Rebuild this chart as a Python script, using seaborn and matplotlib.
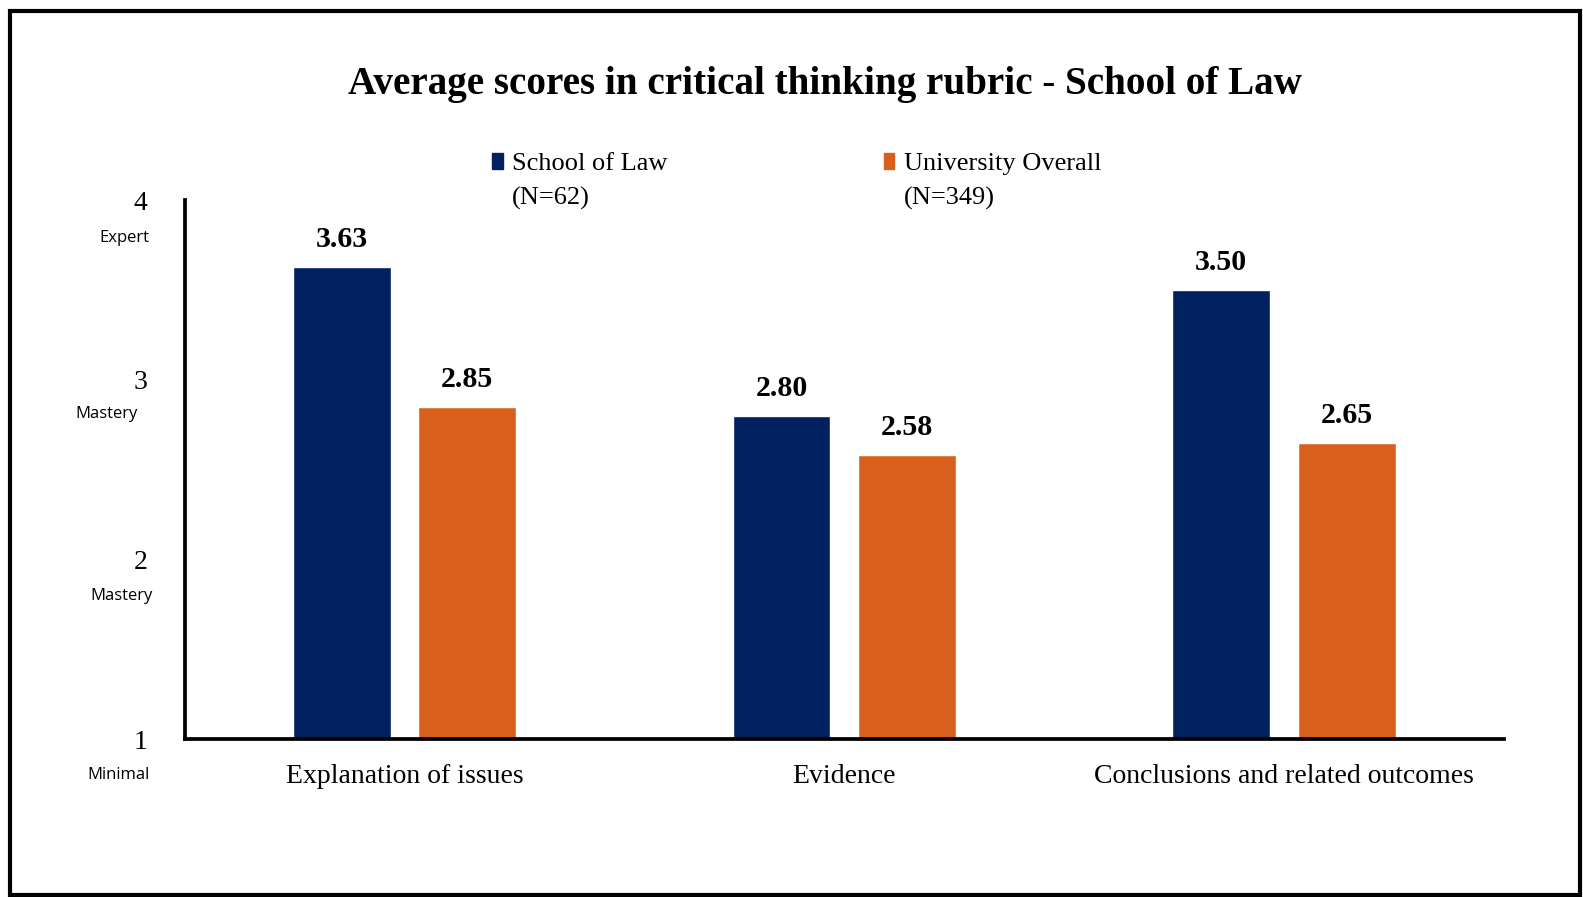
import pandas as pd
import seaborn as sns
import matplotlib.pyplot as plt
from matplotlib.patches import Patch, Rectangle

# data
categories = ['Explanation of issues', 'Evidence', 'Conclusions and related outcomes']
school_scores = [3.63, 2.80, 3.50]
univ_scores = [2.85, 2.58, 2.65]
series_names = ['School of Law', 'University Overall']
series_n = ['(N=62)', '(N=349)']
ytick_vals = [1, 2, 3, 4]
ytick_words = ['Minimal', 'Mastery', 'Mastery', 'Expert']

colors = {'School of Law': '#002060', 'University Overall': '#D9601C'}

df = pd.DataFrame({
    'category': categories * 2,
    'score': school_scores + univ_scores,
    'group': [series_names[0]] * 3 + [series_names[1]] * 3,
})

sns.set_theme(style='white')
plt.rcParams['font.family'] = ['Liberation Serif', 'DejaVu Serif']
plt.rcParams['text.color'] = 'black'
plt.rcParams['xtick.color'] = 'black'
plt.rcParams['ytick.color'] = 'black'

fig = plt.figure(figsize=(15.83, 8.97), dpi=100)
ax = fig.add_axes([0.1167, 0.1757, 0.950 - 0.1167, 0.777 - 0.1757])

sns.barplot(data=df, x='category', y='score', hue='group', palette=colors,
            width=0.571, gap=0.22, saturation=1, legend=False, ax=ax)

ax.set_ylim(1, 4)
ax.set_xlim(-0.5, 2.5)
ax.set_xlabel('')
ax.set_ylabel('')
ax.set_yticks(ytick_vals)
ax.set_yticklabels([str(v) for v in ytick_vals], fontsize=20)
ax.tick_params(axis='y', length=0, pad=27)
ax.tick_params(axis='x', length=0, pad=18, labelsize=20)

for s in ['top', 'right']:
    ax.spines[s].set_visible(False)
for s in ['left', 'bottom']:
    ax.spines[s].set_color('black')
    ax.spines[s].set_linewidth(2.7)

# small descriptors under the numbers
word_x = [-0.050, -0.048, -0.059, -0.046]
word_dy = [0.2, 0.205, 0.19, 0.21]
for v, w, xo, dy in zip(ytick_vals, ytick_words, word_x, word_dy):
    ax.text(xo, v - dy, w, transform=ax.get_yaxis_transform(),
            ha='center', va='center', fontsize=12, family='Open Sans')

for c in ax.containers:
    ax.bar_label(c, fmt='%.2f', padding=10, fontsize=21.5, fontweight='bold')

# legend: label rows plus N rows with empty handles
h = [Patch(color=colors[series_names[0]]), Patch(alpha=0),
     Patch(color=colors[series_names[1]]), Patch(alpha=0)]
lab = [series_names[0], series_n[0], series_names[1], series_n[1]]
fig.legend(h, lab, ncol=2, loc='upper left', bbox_to_anchor=(0.311, 0.829),
           frameon=False, fontsize=19, handlelength=0.4, handleheight=0.5,
           handletextpad=0.35, columnspacing=8.2, labelspacing=0.42,
           borderpad=0, borderaxespad=0)

fig.text(0.521, 0.9055, 'Average scores in critical thinking rubric - School of Law',
         ha='center', va='center', fontsize=28.2, fontweight='bold')

fig.patches.append(Rectangle((10 / 1583, 2 / 897), 1570 / 1583, 884 / 897,
                             transform=fig.transFigure, fill=False,
                             edgecolor='black', linewidth=3))

fig.savefig('out.png', dpi=100)
